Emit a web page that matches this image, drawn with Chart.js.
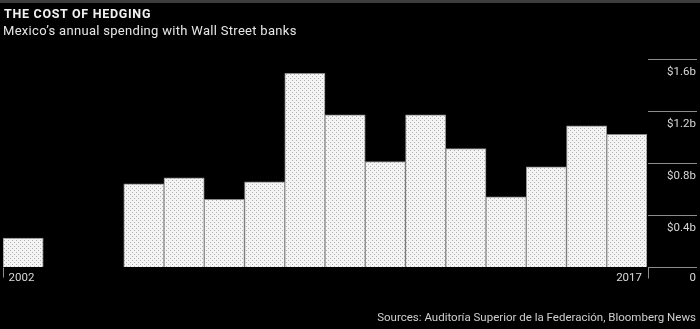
<!DOCTYPE html>
<html>
<head>
<meta charset="utf-8">
<script src="https://cdn.jsdelivr.net/npm/chart.js@4"></script>
<style>
  html, body { margin: 0; padding: 0; background: #000; }
  #wrap { position: relative; width: 700px; height: 329px; background: #000; overflow: hidden; }
  #topbar { position: absolute; left: 0; top: 0; width: 700px; height: 3px; background: #3d3d3d; }
  #title { position: absolute; left: 4px; top: 6px; color: #f2f2f2; font: bold 12.5px "Roboto", "Liberation Sans", sans-serif; letter-spacing: 0.7px; }
  #subtitle { position: absolute; left: 3px; top: 23px; color: #e6e6e6; font: 13px "Roboto", "Liberation Sans", sans-serif; letter-spacing: 0.3px; }
  #source { position: absolute; right: 4px; top: 310px; color: #cfcfcf; font: 11.5px "Roboto", "Liberation Sans", sans-serif; }
  canvas { position: absolute; left: 0; top: 0; }
</style>
</head>
<body>
<div id="wrap">
  <canvas id="c" width="700" height="329"></canvas>
  <div id="topbar"></div>
  <div id="title">THE COST OF HEDGING</div>
  <div id="subtitle">Mexico’s annual spending with Wall Street banks</div>
  <div id="source">Sources: Auditoría Superior de la Federación, Bloomberg News</div>
</div>
<script>
const years = ['2002','2003','2004','2005','2006','2007','2008','2009','2010','2011','2012','2013','2014','2015','2016','2017'];
const spending = [0.223, null, null, 0.64, 0.685, 0.52, 0.655, 1.49, 1.17, 0.81, 1.17, 0.91, 0.54, 0.77, 1.085, 1.02];
const yTicks = [0, 0.4, 0.8, 1.2, 1.6];
const yTickLabels = ['0', '$0.4b', '$0.8b', '$1.2b', '$1.6b'];
const xLabelYears = ['2002', '2017'];

function makePattern() {
  const p = document.createElement('canvas');
  p.width = 4; p.height = 4;
  const g = p.getContext('2d');
  g.fillStyle = '#f4f4f4';
  g.fillRect(0, 0, 4, 4);
  g.fillStyle = '#b0b0b0';
  g.fillRect(0, 0, 1, 1);
  g.fillRect(2, 2, 1, 1);
  return document.getElementById('c').getContext('2d').createPattern(p, 'repeat');
}

const axisPlugin = {
  id: 'axisPlugin',
  afterDraw(chart) {
    const ctx = chart.ctx;
    const ys = chart.scales.y, xs = chart.scales.x;
    const area = chart.chartArea;
    const gx0 = Math.round(area.right) + 1.5;
    const gx1 = 697;
    ctx.save();
    ctx.strokeStyle = '#8c8c8c';
    ctx.lineWidth = 1;
    ctx.fillStyle = '#d9d9d9';
    ctx.font = '11.5px "Roboto", "Liberation Sans", sans-serif';
    ctx.textBaseline = 'middle';
    yTicks.forEach((v, i) => {
      const y = Math.round(ys.getPixelForValue(v)) + 0.5;
      ctx.beginPath();
      ctx.moveTo(gx0 - 0.5, y);
      ctx.lineTo(gx1, y);
      ctx.stroke();
      ctx.textAlign = 'right';
      ctx.fillText(yTickLabels[i], 696, y + (v === 0 ? 11 : 13));
      if (v === 0) {
        ctx.beginPath();
        ctx.moveTo(gx0, y);
        ctx.lineTo(gx0, y + 11);
        ctx.stroke();
      }
    });
    const y0 = Math.round(ys.getPixelForValue(0)) + 0.5;
    const half = (xs.getPixelForValue(1) - xs.getPixelForValue(0)) / 2;
    const firstIdx = years.indexOf(xLabelYears[0]);
    const xl = Math.round(xs.getPixelForValue(firstIdx) - half) + 0.5;
    ctx.beginPath();
    ctx.moveTo(xl, y0);
    ctx.lineTo(xl, y0 + 10);
    ctx.stroke();
    ctx.textAlign = 'left';
    ctx.fillText(xLabelYears[0], xl + 5, y0 + 11);
    const lastIdx = years.indexOf(xLabelYears[1]);
    const xr = xs.getPixelForValue(lastIdx) + half;
    ctx.textAlign = 'right';
    ctx.fillText(xLabelYears[1], xr - 5, y0 + 11);
    ctx.restore();
  }
};

new Chart(document.getElementById('c'), {
  type: 'bar',
  data: {
    labels: years,
    datasets: [{
      data: spending,
      backgroundColor: makePattern(),
      borderColor: '#8a8a8a',
      borderWidth: 1,
      barPercentage: 1,
      categoryPercentage: 1
    }]
  },
  options: {
    responsive: false,
    animation: false,
    events: [],
    layout: { padding: { left: 3, right: 53, top: 59, bottom: 62 } },
    plugins: { legend: { display: false }, tooltip: { enabled: false }, title: { display: false } },
    scales: {
      x: { display: false },
      y: { display: false, min: 0, max: 1.6 }
    }
  },
  plugins: [axisPlugin]
});
</script>
</body>
</html>
